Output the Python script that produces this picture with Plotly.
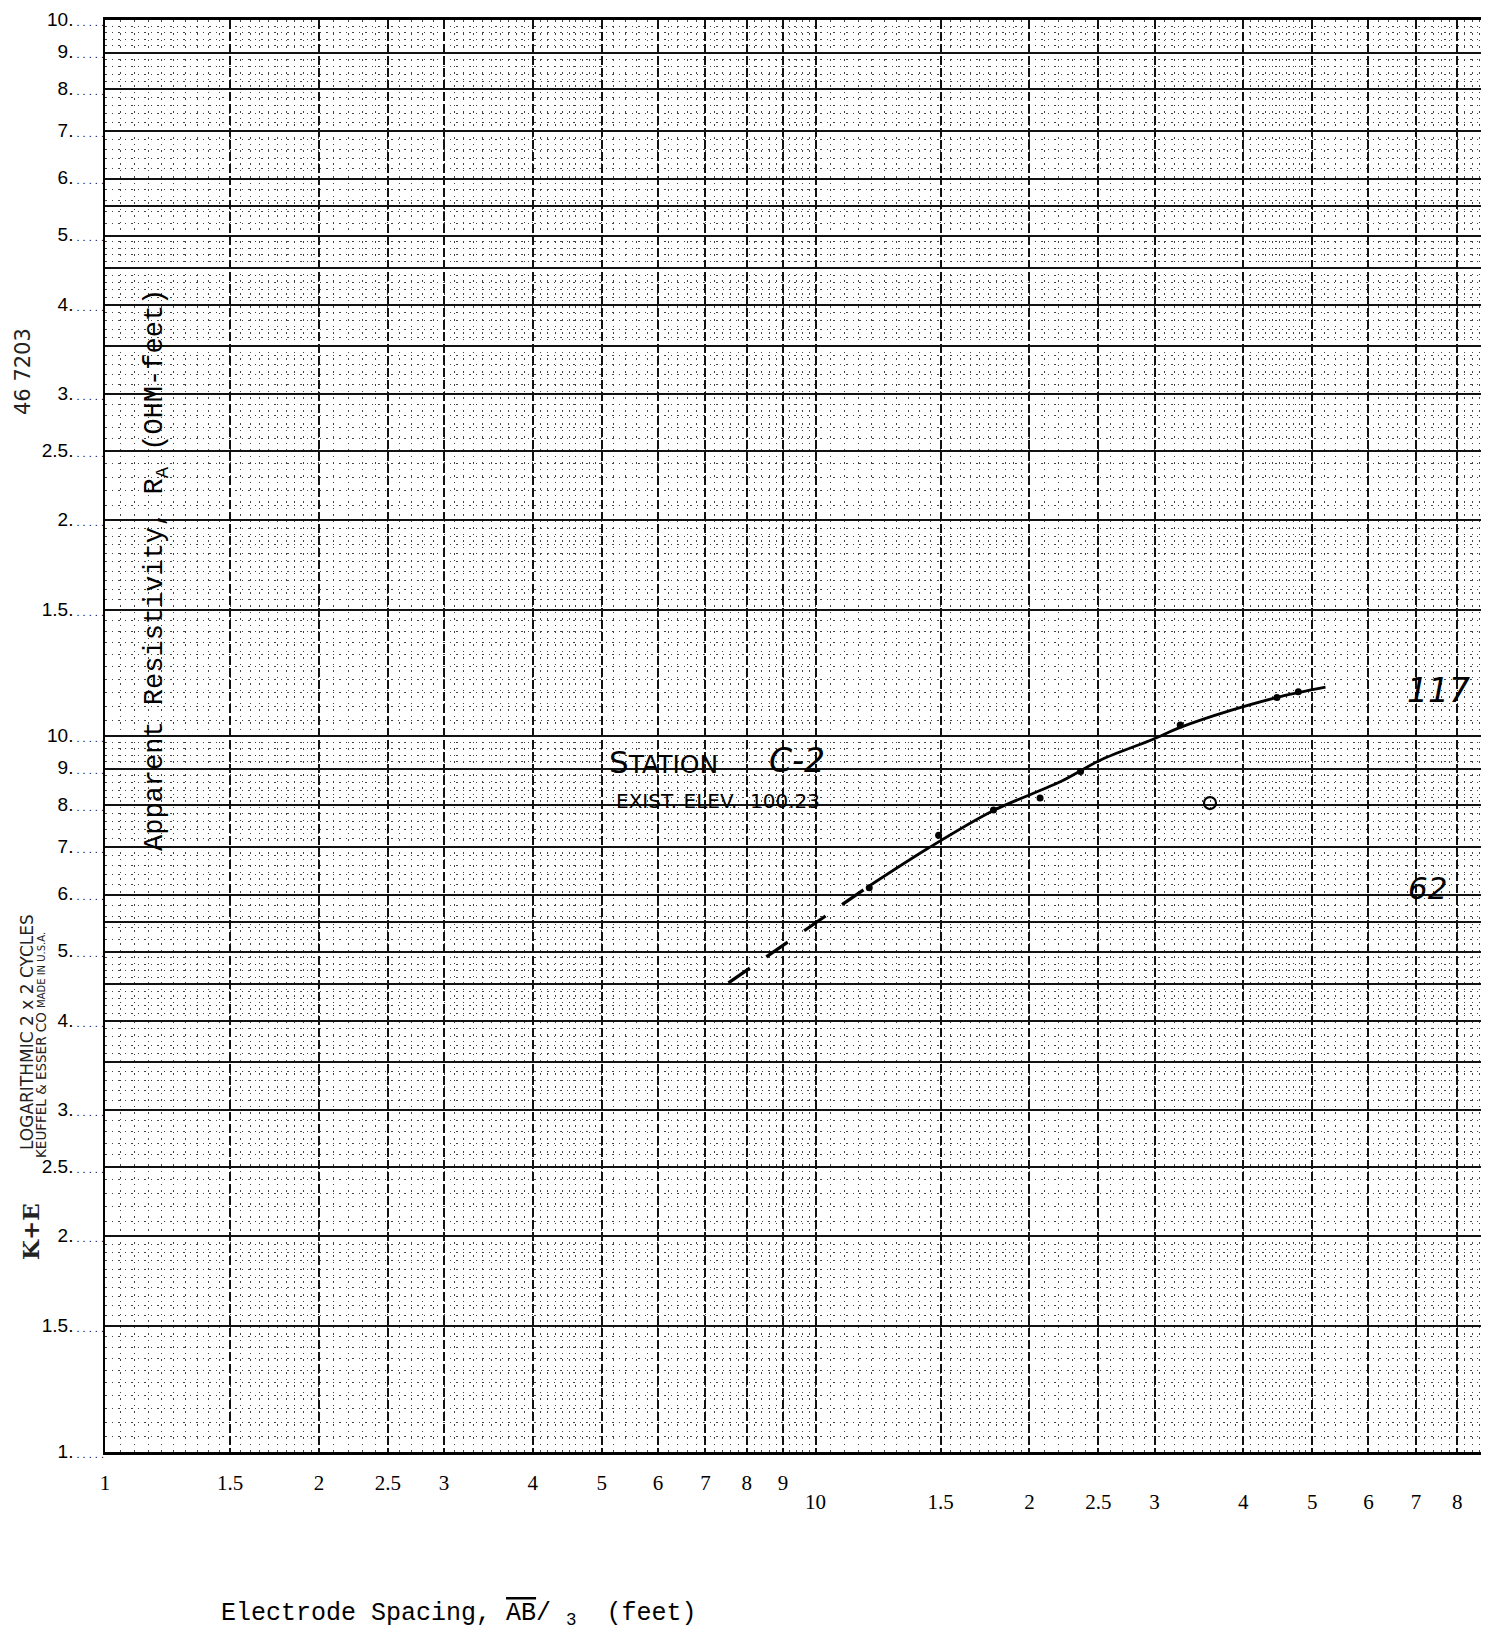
import numpy as np
import plotly.graph_objects as go

# ---------------- data read from the sheet ----------------
# hand-drawn smooth curve (solid)
curve_x = [11.8, 14.4, 17.8, 22.1, 25.2, 29.8, 32.6, 38.3, 45.1, 52.2]
curve_y = [6.14, 6.97, 7.87, 8.63, 9.26, 9.89, 10.28, 10.85, 11.35, 11.70]
# dashed extrapolation
dash_x = [7.54, 11.8]
dash_y = [4.52, 6.14]
# plotted observations (dots)
pts_x = [11.9, 14.9, 17.8, 20.7, 23.6, 32.6, 44.6, 47.8]
pts_y = [6.14, 7.27, 7.88, 8.19, 8.92, 10.36, 11.32, 11.53]
# small hand-drawn circle
circ_x = [35.9]
circ_y = [8.06]

# tick values / labels
x_major = [1, 1.5, 2, 2.5, 3, 4, 5, 6, 7, 8, 9, 10, 15, 20, 25, 30, 40, 50, 60, 70, 80]
x_lab1_vals = [1, 1.5, 2, 2.5, 3, 4, 5, 6, 7, 8, 9]
x_lab1_text = ["1", "1.5", "2", "2.5", "3", "4", "5", "6", "7", "8", "9"]
x_lab2_vals = [10, 15, 20, 25, 30, 40, 50, 60, 70, 80]
x_lab2_text = ["10", "1.5", "2", "2.5", "3", "4", "5", "6", "7", "8"]

y_lab_vals = [1, 1.5, 2, 2.5, 3, 4, 5, 6, 7, 8, 9, 10,
              15, 20, 25, 30, 40, 50, 60, 70, 80, 90, 100]
y_lab_text = ["1", "1.5", "2", "2.5", "3", "4", "5", "6", "7", "8", "9", "10",
              "1.5", "2", "2.5", "3", "4", "5", "6", "7", "8", "9", "10"]
y_extra_major = [3.5, 4.5, 5.5, 35, 45, 55]

X_MAX = 86.4

# ---------------- layout helpers ----------------
W, H = 1494, 1638
BODY = 8                      # default page margin of the html body
L, R, T, B = 105, 13, 20, 186  # target plot-area edges on the page
PW, PH = W - L - R, H - T - B


def px(xp):
    return (xp - L) / PW


def py(yp):
    return (H - B - yp) / PH


def lx(xp):
    return (xp - L) / PW * np.log10(X_MAX)


def ly(yp):
    return (H - B - yp) / PH * 2.0


def minor_vals():
    out = []
    for base in (1, 10, 100):
        for a, b, s in ((1, 2, 0.05), (2, 5, 0.1), (5, 10, 0.2)):
            for v in np.arange(a, b - 1e-9, s):
                out.append(round(v * base, 4))
    return out


minors = minor_vals()
minor_x = [v for v in minors if v <= X_MAX]
minor_y = [v for v in minors if v <= 100]

leader = "<span style='font-size:11px'> . . . . .</span>"
y_ticktext = [t + "." + leader for t in y_lab_text]

fig = go.Figure()

fig.add_trace(go.Scatter(x=dash_x, y=dash_y, mode="lines",
                         line=dict(color="black", width=3.2, dash="26px,20px"),
                         showlegend=False, hoverinfo="skip"))
fig.add_trace(go.Scatter(x=curve_x, y=curve_y, mode="lines",
                         line=dict(color="black", width=2.8, shape="spline", smoothing=0.9),
                         showlegend=False, hoverinfo="skip"))
fig.add_trace(go.Scatter(x=pts_x, y=pts_y, mode="markers",
                         marker=dict(color="black", size=7),
                         showlegend=False, hoverinfo="skip"))
fig.add_trace(go.Scatter(x=circ_x, y=circ_y, mode="markers",
                         marker=dict(symbol="circle-open", color="black", size=12,
                                     line=dict(width=2.2, color="black")),
                         showlegend=False, hoverinfo="skip"))
# invisible traces binding the label-only overlay axes
fig.add_trace(go.Scatter(x=[10], y=[10], xaxis="x2", yaxis="y2", mode="markers",
                         marker=dict(opacity=0), showlegend=False, hoverinfo="skip"))
fig.add_trace(go.Scatter(x=[10], y=[10], xaxis="x3", yaxis="y", mode="markers",
                         marker=dict(opacity=0), showlegend=False, hoverinfo="skip"))

x_range = [0, np.log10(X_MAX)]
xfont = dict(family="Liberation Serif", size=21, color="black")

fig.update_layout(
    width=W - 2 * BODY, height=H - 2 * BODY,
    margin=dict(l=L - BODY, r=R - BODY, t=T - BODY, b=B - BODY),
    paper_bgcolor="white", plot_bgcolor="white",
    xaxis=dict(
        type="log", range=x_range, automargin=False,
        tickmode="array", tickvals=x_major, showticklabels=False,
        showgrid=True, gridcolor="#111", gridwidth=1.5, griddash="9px,3px",
        minor=dict(tickmode="array", tickvals=minor_x, showgrid=True,
                   gridcolor="#444", gridwidth=1, griddash="1.5px,5px", ticks=""),
        ticks="", showline=True, linecolor="black", linewidth=2.5, mirror=True,
        zeroline=False,
    ),
    xaxis2=dict(
        type="log", range=x_range, overlaying="x", anchor="y", side="bottom",
        matches="x", automargin=False,
        tickmode="array", tickvals=x_lab1_vals, ticktext=x_lab1_text,
        showgrid=False, showline=False, ticks="", zeroline=False,
        tickfont=xfont, ticklabelstandoff=16,
    ),
    xaxis3=dict(
        type="log", range=x_range, overlaying="x", anchor="y", side="bottom",
        matches="x", automargin=False,
        tickmode="array", tickvals=x_lab2_vals, ticktext=x_lab2_text,
        showgrid=False, showline=False, ticks="", zeroline=False,
        tickfont=xfont, ticklabelstandoff=35,
    ),
    yaxis=dict(
        type="log", range=[0, 2], automargin=False,
        tickmode="array", tickvals=y_lab_vals + y_extra_major, showticklabels=False,
        showgrid=True, gridcolor="#111", gridwidth=1.6,
        minor=dict(tickmode="array", tickvals=minor_y, showgrid=True,
                   gridcolor="#444", gridwidth=1, griddash="1.5px,5px", ticks=""),
        ticks="", showline=True, linecolor="black", linewidth=2, mirror=False,
        zeroline=False,
    ),
    yaxis2=dict(
        type="log", range=[0, 2], overlaying="y", anchor="x", side="left",
        matches="y", automargin=False,
        tickmode="array", tickvals=y_lab_vals, ticktext=y_ticktext,
        showgrid=False, showline=False, ticks="", zeroline=False,
        tickfont=dict(family="Liberation Sans", size=19, color="black"),
        ticklabelstandoff=0, ticklabelshift=-1, ticklabeloverflow="allow",
    ),
)

C = dict(xanchor="center", yanchor="middle", showarrow=False)
ann = []
# rotated sheet texts in the left margin
ann.append(dict(text="46 7203", xref="paper", yref="paper", x=px(23), y=py(372),
                textangle=-90, font=dict(family="DejaVu Sans", size=21, color="#222"), **C))
ann.append(dict(text="LOGARITHMIC 2 x 2 CYCLES", xref="paper", yref="paper",
                x=px(27), y=py(1032), textangle=-90,
                font=dict(family="DejaVu Sans", size=17, color="#222"), **C))
ann.append(dict(text="KEUFFEL & ESSER CO", xref="paper", yref="paper",
                x=px(41), y=py(1085), textangle=-90,
                font=dict(family="DejaVu Sans", size=13.5, color="#222"), **C))
ann.append(dict(text="MADE IN U.S.A.", xref="paper", yref="paper",
                x=px(41), y=py(970), textangle=-90,
                font=dict(family="DejaVu Sans", size=10, color="#222"), **C))
ann.append(dict(text="<b>K+E</b>", xref="paper", yref="paper",
                x=px(30), y=py(1232), textangle=-90,
                font=dict(family="DejaVu Serif", size=23, color="#222"), **C))

# axis titles (typewritten)
ann.append(dict(text="Apparent Resistivity, R<sub>A</sub> (OHM-feet)",
                xref="paper", yref="paper", x=px(157), y=py(570), textangle=-90,
                font=dict(family="Liberation Mono", size=27, color="black"), **C))
ann.append(dict(text="Electrode Spacing, <span style='text-decoration:overline'>AB</span>/ <sub>3</sub>  (feet)",
                xref="paper", yref="paper", x=px(219), y=py(1614),
                xanchor="left", yanchor="middle", showarrow=False,
                font=dict(family="Liberation Mono", size=25, color="black")))

# handwritten notes (placed in log-axis units)
ann.append(dict(text="<span style='font-size:31px'>S</span>TATION", xref="x", yref="y",
                x=lx(607), y=ly(762), xanchor="left", yanchor="middle", showarrow=False,
                font=dict(family="DejaVu Sans", size=25, color="black")))
ann.append(dict(text="<i>C-2</i>", xref="x", yref="y", x=lx(797), y=ly(760),
                font=dict(family="DejaVu Sans", size=33, color="black"), **C))
ann.append(dict(text="EXIST. ELEV.  100.23", xref="x", yref="y",
                x=lx(614), y=ly(801), xanchor="left", yanchor="middle", showarrow=False,
                font=dict(family="DejaVu Sans", size=20, color="black")))
ann.append(dict(text="<i>117</i>", xref="x", yref="y", x=lx(1438), y=ly(690),
                font=dict(family="DejaVu Sans", size=33, color="black"), **C))
ann.append(dict(text="<i>62</i>", xref="x", yref="y", x=lx(1427), y=ly(888),
                font=dict(family="DejaVu Sans", size=31, color="black"), **C))
fig.update_layout(annotations=ann)

# underline of the station name
fig.add_shape(type="line", xref="x", yref="y",
              x0=lx(607), x1=lx(822), y0=ly(775), y1=ly(775),
              line=dict(color="black", width=2.4))

fig.write_html("out.html")
